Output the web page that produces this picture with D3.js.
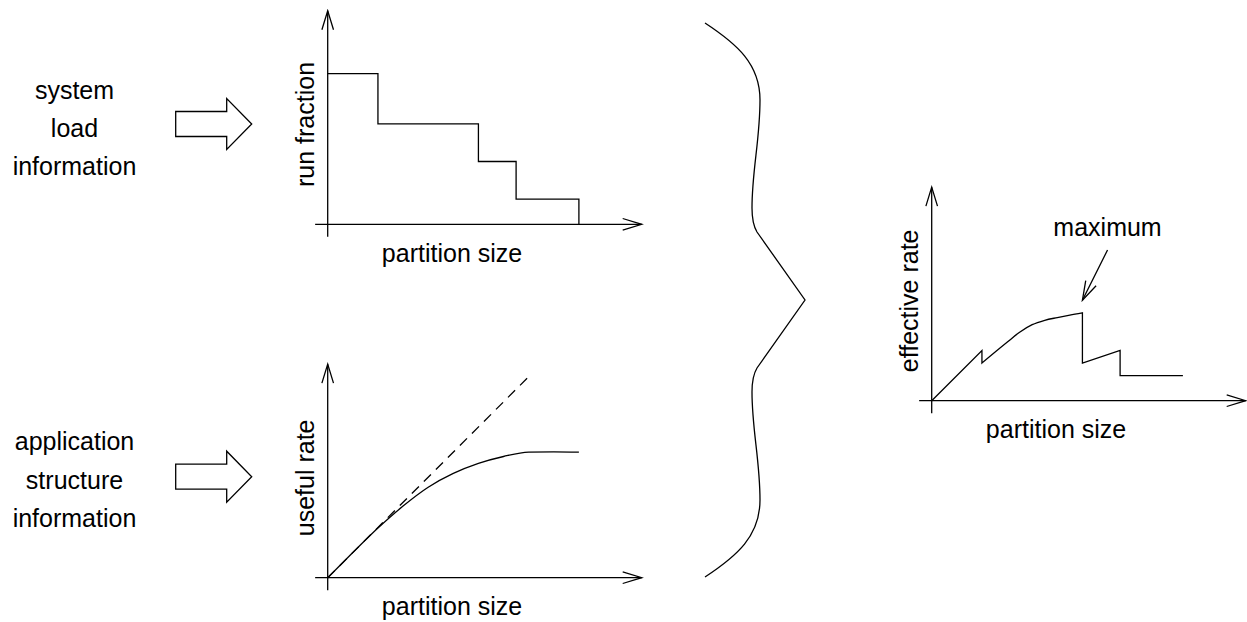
<!DOCTYPE html>
<html><head><meta charset="utf-8">
<script src="https://cdn.jsdelivr.net/npm/d3@7"></script>
<style>
html,body{margin:0;padding:0;background:#fff;}
svg{display:block;font-family:"Liberation Sans",Arial,Helvetica,sans-serif;}
</style>
</head><body>
<svg id="c" width="1247" height="622"></svg>
<script>
// ---- data ----
const inputLabelsTop = ["system", "load", "information"];
const inputLabelsBottom = ["application", "structure", "information"];
const panelYLabels = ["run fraction", "useful rate", "effective rate"];
const xLabel = "partition size";
const annotationLabel = "maximum";

const runFracX = [0, 4, 12, 15, 20];
const runFracY = [12, 8, 5, 2, 0];

const usefulX = [0, 2, 4, 6, 8, 10, 12, 14, 16, 18, 20];
const usefulY = [0, 2, 3.95, 5.7, 7.2, 8.3, 9.1, 9.65, 10, 10.02, 10];

const idealX = [0, 16];
const idealY = [0, 16];

const effX = [0, 4, 4, 6, 7, 8, 9, 10, 11, 12, 12, 15, 15, 20];
const effY = [0, 4, 3, 4.65, 5.45, 6.05, 6.4, 6.62, 6.82, 7, 3, 4, 2, 2];

const maxArrowFrom = [14, 12];
const maxArrowTo = [12, 8];

// ---- layout ----
const U = 12.56;
const panels = [
  {ox: 327.7, oy: 224.3},
  {ox: 327.7, oy: 577.7},
  {ox: 931.7, oy: 400.7}
];
const SW = 1.3;

const svg = d3.select("#c");
svg.append("rect").attr("width", 1247).attr("height", 622).attr("fill", "#fff");

const defs = svg.append("defs");
defs.append("marker")
  .attr("id", "open")
  .attr("viewBox", "-21 -8 23 16")
  .attr("markerWidth", 23).attr("markerHeight", 16)
  .attr("markerUnits", "userSpaceOnUse")
  .attr("refX", 0).attr("refY", 0)
  .attr("orient", "auto")
  .append("path")
  .attr("d", "M-19,-5.8 L0,0 L-19,5.8")
  .attr("fill", "none").attr("stroke", "#000").attr("stroke-width", SW);

function makeScales(p) {
  const x = d3.scaleLinear().domain([-1, 25]).range([p.ox - U, p.ox + 25 * U]);
  const y = d3.scaleLinear().domain([-1, 17]).range([p.oy + U, p.oy - 17 * U]);
  return {x, y};
}

function drawPanel(p, yLabel) {
  const s = makeScales(p);
  const g = svg.append("g");
  const ax = g.append("g").attr("transform", `translate(0,${s.y(0)})`)
    .call(d3.axisBottom(s.x).tickValues([]).tickSizeOuter(0));
  const ay = g.append("g").attr("transform", `translate(${s.x(0)},0)`)
    .call(d3.axisLeft(s.y).tickValues([]).tickSizeOuter(0));
  g.selectAll(".domain").attr("stroke", "#000").attr("stroke-width", SW);
  ax.select(".domain").attr("d", `M${s.x(-1)},0H${s.x(25)}`).attr("marker-end", "url(#open)");
  ay.select(".domain").attr("d", `M0,${s.y(-1)}V${s.y(17)}`).attr("marker-end", "url(#open)");

  g.append("text").attr("x", s.x(9.9)).attr("y", p.oy + 37.5)
    .attr("text-anchor", "middle").attr("font-size", 25).text(xLabel);
  g.append("text")
    .attr("transform", `translate(${p.ox - 14},${s.y(7.95)}) rotate(-90)`)
    .attr("text-anchor", "middle").attr("font-size", 25).text(yLabel);
  return {g, s};
}

const lineOf = (s, curve) => d3.line().x(d => s.x(d[0])).y(d => s.y(d[1])).curve(curve || d3.curveLinear);

// split a polyline into runs of strictly increasing x, joined by vertical drops
function segmentedPath(s, pts) {
  const segs = [];
  let cur = [pts[0]];
  for (let i = 1; i < pts.length; i++) {
    if (pts[i][0] === pts[i - 1][0]) { segs.push(cur); cur = [pts[i]]; }
    else cur.push(pts[i]);
  }
  segs.push(cur);
  const gen = lineOf(s, d3.curveMonotoneX);
  return segs.map((sg, i) => {
    const d = gen(sg);
    return i === 0 ? d : "L" + d.slice(1);
  }).join("");
}

// panel 1: run fraction
{
  const {g, s} = drawPanel(panels[0], panelYLabels[0]);
  const pts = runFracX.map((v, i) => [v, runFracY[i]]);
  g.append("path").attr("d", lineOf(s, d3.curveStepAfter)(pts))
    .attr("fill", "none").attr("stroke", "#000").attr("stroke-width", SW);
}
// panel 2: useful rate
{
  const {g, s} = drawPanel(panels[1], panelYLabels[1]);
  const ideal = idealX.map((v, i) => [v, idealY[i]]);
  g.append("path").attr("d", lineOf(s)(ideal))
    .attr("fill", "none").attr("stroke", "#000").attr("stroke-width", SW)
    .attr("stroke-dasharray", "10,7");
  const pts = usefulX.map((v, i) => [v, usefulY[i]]);
  g.append("path").attr("d", lineOf(s, d3.curveMonotoneX)(pts))
    .attr("fill", "none").attr("stroke", "#000").attr("stroke-width", SW);
}
// panel 3: effective rate
{
  const {g, s} = drawPanel(panels[2], panelYLabels[2]);
  const pts = effX.map((v, i) => [v, effY[i]]);
  g.append("path").attr("d", segmentedPath(s, pts))
    .attr("fill", "none").attr("stroke", "#000").attr("stroke-width", SW)
    .attr("stroke-linejoin", "miter");
  g.append("line")
    .attr("x1", s.x(maxArrowFrom[0])).attr("y1", s.y(maxArrowFrom[1]))
    .attr("x2", s.x(maxArrowTo[0])).attr("y2", s.y(maxArrowTo[1]))
    .attr("stroke", "#000").attr("stroke-width", SW).attr("marker-end", "url(#open)");
  g.append("text").attr("x", s.x(14)).attr("y", s.y(13.1))
    .attr("text-anchor", "middle").attr("font-size", 25).text(annotationLabel);
}

// input labels and block arrows
function inputBlock(labels, firstBaseline, lh, cy) {
  const g = svg.append("g");
  g.selectAll("text").data(labels).join("text")
    .attr("x", 74.5).attr("y", (d, i) => firstBaseline + i * lh)
    .attr("text-anchor", "middle").attr("font-size", 25).text(d => d);
  const x0 = 175.7, xb = 226.7, xt = 251.7, sh = 12.5, hh = 25.5;
  const poly = [[x0, cy - sh], [xb, cy - sh], [xb, cy - hh], [xt, cy], [xb, cy + hh], [xb, cy + sh], [x0, cy + sh]];
  g.append("path").attr("d", d3.line()(poly) + "Z")
    .attr("fill", "#fff").attr("stroke", "#000").attr("stroke-width", SW).attr("stroke-linejoin", "miter");
}
inputBlock(inputLabelsTop, 99, 37.8, 124);
inputBlock(inputLabelsBottom, 450, 38.5, 476.7);

// curly brace
{
  const mid = 300;
  const top = [[705, 23], [737, 44], [760, 64], [760, 100], [760, 140], [752, 170], [752, 208], [752, 221], [754, 227], [757, 232]];
  const tip = [805, mid];
  const p = d3.path();
  p.moveTo(top[0][0], top[0][1]);
  p.bezierCurveTo(...top[1], ...top[2], ...top[3]);
  p.bezierCurveTo(...top[4], ...top[5], ...top[6]);
  p.bezierCurveTo(...top[7], ...top[8], ...top[9]);
  p.lineTo(...tip);
  const m = q => [q[0], 2 * mid - q[1]];
  p.lineTo(...m(top[9]));
  p.bezierCurveTo(...m(top[8]), ...m(top[7]), ...m(top[6]));
  p.bezierCurveTo(...m(top[5]), ...m(top[4]), ...m(top[3]));
  p.bezierCurveTo(...m(top[2]), ...m(top[1]), ...m(top[0]));
  svg.append("path").attr("d", p.toString())
    .attr("fill", "none").attr("stroke", "#000").attr("stroke-width", SW);
}
</script>
</body></html>
